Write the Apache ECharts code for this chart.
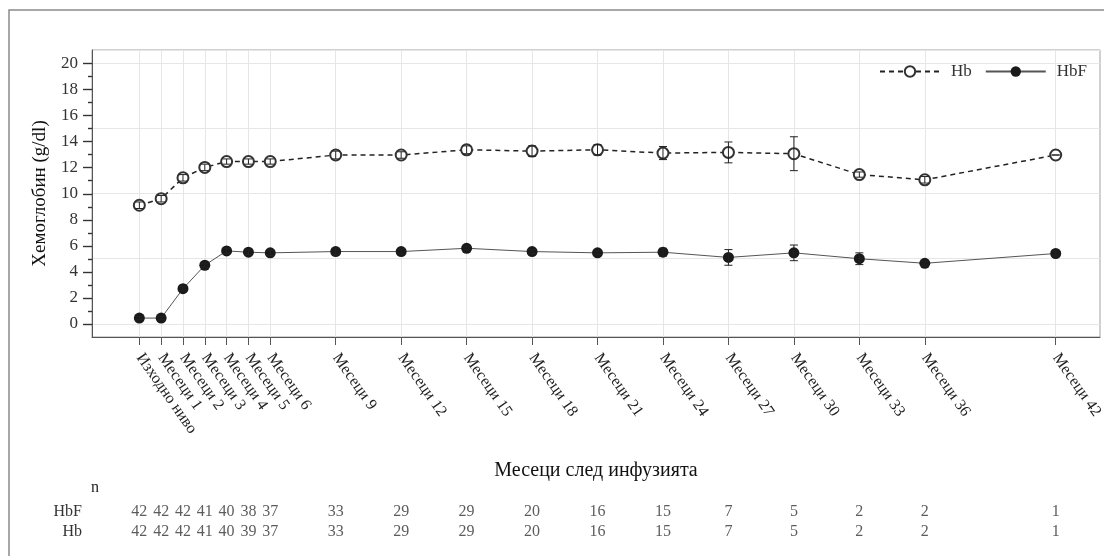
<!DOCTYPE html>
<html>
<head>
<meta charset="utf-8">
<script src="https://cdn.jsdelivr.net/npm/echarts@6/dist/echarts.min.js"></script>
<style>
  html, body { margin: 0; padding: 0; background: #fff; }
  #box { width: 1104px; height: 556px; }
</style>
</head>
<body>
<div id="box"></div>
<script>
var months = [0, 1, 2, 3, 4, 5, 6, 9, 12, 15, 18, 21, 24, 27, 30, 33, 36, 42];
var monthLabels = ['Изходно ниво', 'Месеци 1', 'Месеци 2', 'Месеци 3', 'Месеци 4', 'Месеци 5', 'Месеци 6',
  'Месеци 9', 'Месеци 12', 'Месеци 15', 'Месеци 18', 'Месеци 21', 'Месеци 24', 'Месеци 27',
  'Месеци 30', 'Месеци 33', 'Месеци 36', 'Месеци 42'];
var hbMean = [9.1, 9.6, 11.2, 12.0, 12.45, 12.45, 12.45, 12.95, 12.95, 13.35, 13.25, 13.35, 13.1, 13.15, 13.05, 11.45, 11.05, 12.95];
var hbErr = [0.25, 0.25, 0.25, 0.25, 0.2, 0.2, 0.2, 0.3, 0.25, 0.3, 0.4, 0.4, 0.5, 0.8, 1.3, 0.2, 0.25, 0];
var hbfMean = [0.45, 0.45, 2.7, 4.5, 5.6, 5.5, 5.45, 5.55, 5.55, 5.8, 5.55, 5.45, 5.5, 5.1, 5.45, 5.0, 4.65, 5.4];
var hbfErr = [0.1, 0.1, 0.15, 0.15, 0.2, 0.2, 0.2, 0.25, 0.2, 0.15, 0.15, 0.15, 0.3, 0.6, 0.6, 0.45, 0.15, 0.2];
var nHbF = [42, 42, 42, 41, 40, 38, 37, 33, 29, 29, 20, 16, 15, 7, 5, 2, 2, 1];
var nHb = [42, 42, 42, 41, 40, 39, 37, 33, 29, 29, 20, 16, 15, 7, 5, 2, 2, 1];
var yTicks = [0, 2, 4, 6, 8, 10, 12, 14, 16, 18, 20];
var yMinorTicks = [1, 3, 5, 7, 9, 11, 13, 15, 17, 19];

var xMin = -2.17, xMax = 44.03;
var font = 'Liberation Serif';
var chart = echarts.init(document.getElementById('box'));

function pairs(vals) {
  return months.map(function (m, i) { return [m, vals[i]]; });
}
function errRows(mean, err) {
  return months.map(function (m, i) { return [m, mean[i] - err[i], mean[i] + err[i]]; });
}
// vertical error bar with small caps
function errBar(params, api) {
  var x = api.value(0);
  var lo = api.coord([x, api.value(1)]);
  var hi = api.coord([x, api.value(2)]);
  var st = { stroke: '#222', lineWidth: 1 };
  return {
    type: 'group',
    children: [
      { type: 'line', shape: { x1: lo[0], y1: lo[1], x2: hi[0], y2: hi[1] }, style: st },
      { type: 'line', shape: { x1: lo[0] - 4, y1: lo[1], x2: lo[0] + 4, y2: lo[1] }, style: st },
      { type: 'line', shape: { x1: hi[0] - 4, y1: hi[1], x2: hi[0] + 4, y2: hi[1] }, style: st }
    ]
  };
}
// y tick marks outside the left axis line: [value, length]
function yTick(params, api) {
  var p = api.coord([xMin, api.value(0)]);
  var len = api.value(1);
  var y = Math.round(p[1]) + 0.5;
  return {
    type: 'line',
    shape: { x1: p[0] - len, y1: y, x2: p[0], y2: y },
    style: { stroke: '#333', lineWidth: 1.4 }
  };
}
function tickRows(vals, len) {
  return vals.map(function (v) { return [v, len]; });
}
function nRows(rowName, vals) {
  return months.map(function (m, i) { return [m, rowName, vals[i]]; });
}

option = {
  backgroundColor: '#fff',
  textStyle: { fontFamily: font },
  graphic: [
    { type: 'rect', shape: { x: 9, y: 10, width: 1200, height: 600 }, style: { fill: 'none', stroke: '#8a8a8a', lineWidth: 1.5 }, silent: true },
    { type: 'text', left: 91, top: 480, style: { text: 'n', font: '16px "Liberation Serif"', fill: '#222' } }
  ],
  legend: {
    right: 12,
    top: 58,
    itemWidth: 60,
    itemHeight: 13,
    itemGap: 13,
    textStyle: { fontFamily: font, fontSize: 17, color: '#333', padding: [0, 0, 0, 6] },
    data: ['Hb', 'HbF']
  },
  grid: [
    { left: 92, right: 4, top: 50, height: 287, show: true, borderColor: '#a0a0a0', borderWidth: 1, outerBoundsMode: 'none', containLabel: false },
    { left: 92, right: 4, top: 502, height: 40, outerBoundsMode: 'none', containLabel: false }
  ],
  xAxis: [{
    gridIndex: 0,
    type: 'value',
    min: xMin,
    max: xMax,
    name: 'Месеци след инфузията',
    nameLocation: 'middle',
    nameGap: 124,
    nameTextStyle: { fontFamily: font, fontSize: 20, color: '#111' },
    axisLine: { show: true, onZero: false, lineStyle: { color: '#555' } },
    axisTick: { show: true, length: 8, customValues: months, lineStyle: { color: '#555' } },
    axisLabel: {
      customValues: months,
      rotate: -55,
      margin: 18,
      fontFamily: font,
      fontSize: 16,
      color: '#222',
      formatter: function (v) { return monthLabels[months.indexOf(v)]; }
    },
    splitLine: { show: true, customValues: months, lineStyle: { color: '#e6e6e6' } }
  }, {
    gridIndex: 1,
    type: 'value',
    min: xMin,
    max: xMax,
    show: false
  }],
  yAxis: [{
    gridIndex: 0,
    type: 'value',
    min: -1,
    max: 21,
    position: 'left',
    name: 'Хемоглобин (g/dl)',
    nameLocation: 'middle',
    nameGap: 42,
    nameTextStyle: { fontFamily: font, fontSize: 19, color: '#111' },
    axisLine: { show: true, onZero: false, lineStyle: { color: '#555' } },
    axisTick: { show: false },
    axisLabel: { customValues: yTicks, margin: 14, fontFamily: font, fontSize: 17, color: '#333' },
    splitLine: { show: true, customValues: yTicks, lineStyle: { color: '#e6e6e6' } }
  }, {
    gridIndex: 1,
    type: 'category',
    data: ['Hb', 'HbF'],
    axisLine: { show: false },
    axisTick: { show: false },
    axisLabel: { interval: 0, margin: 10, fontFamily: font, fontSize: 16, color: '#333' }
  }],
  series: [{
    name: 'Hb',
    type: 'line',
    xAxisIndex: 0,
    yAxisIndex: 0,
    data: pairs(hbMean),
    symbol: 'emptyCircle',
    symbolSize: 11,
    lineStyle: { color: '#222', width: 1.5, type: [5, 4] },
    itemStyle: { color: '#333', borderWidth: 1 },
    z: 3
  }, {
    name: 'HbF',
    type: 'line',
    xAxisIndex: 0,
    yAxisIndex: 0,
    data: pairs(hbfMean),
    symbol: 'circle',
    symbolSize: 11,
    lineStyle: { color: '#555', width: 1 },
    itemStyle: { color: '#1a1a1a' },
    z: 3
  }, {
    name: 'Hb err',
    type: 'custom',
    xAxisIndex: 0,
    yAxisIndex: 0,
    renderItem: errBar,
    data: errRows(hbMean, hbErr),
    encode: { x: 0, y: [1, 2] },
    z: 4
  }, {
    name: 'HbF err',
    type: 'custom',
    xAxisIndex: 0,
    yAxisIndex: 0,
    renderItem: errBar,
    data: errRows(hbfMean, hbfErr),
    encode: { x: 0, y: [1, 2] },
    z: 4
  }, {
    name: 'y ticks',
    type: 'custom',
    xAxisIndex: 0,
    yAxisIndex: 0,
    clip: false,
    silent: true,
    renderItem: yTick,
    data: tickRows(yTicks, 9).concat(tickRows(yMinorTicks, 4)),
    encode: { y: 0 },
    z: 10
  }, {
    name: 'n HbF',
    type: 'scatter',
    xAxisIndex: 1,
    yAxisIndex: 1,
    symbolSize: 1,
    itemStyle: { color: 'transparent' },
    label: { show: true, position: 'inside', fontFamily: font, fontSize: 16, color: '#333', formatter: function (p) { return p.value[2]; } },
    data: nRows('HbF', nHbF)
  }, {
    name: 'n Hb',
    type: 'scatter',
    xAxisIndex: 1,
    yAxisIndex: 1,
    symbolSize: 1,
    itemStyle: { color: 'transparent' },
    label: { show: true, position: 'inside', fontFamily: font, fontSize: 16, color: '#333', formatter: function (p) { return p.value[2]; } },
    data: nRows('Hb', nHb)
  }]
};

chart.setOption(option);
</script>
</body>
</html>
